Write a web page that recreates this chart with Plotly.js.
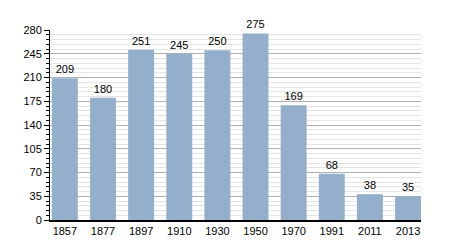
<!DOCTYPE html>
<html><head><meta charset="utf-8">
<script src="https://cdn.plot.ly/plotly-3.0.1.min.js"></script>
<style>html,body{margin:0;padding:0;background:#fff}</style>
</head><body><div id="chart" style="width:450px;height:250px"></div>
<script>
const years = ["1857","1877","1897","1910","1930","1950","1970","1991","2011","2013"];
const population = [209,180,251,245,250,275,169,68,38,35];
const yTicks = [0,35,70,105,140,175,210,245,280];

Plotly.newPlot('chart', [{
  type: 'bar', x: years, y: population,
  text: population.map(String), textposition: 'outside', cliponaxis: false,
  textfont: {family: 'Liberation Sans, Arial, sans-serif', size: 11, color: '#000'},
  marker: {color: '#94afcb'}, width: 0.68, hoverinfo: 'none'
}], {
  width: 450, height: 250,
  margin: {l: 50, r: 29, t: 30, b: 30},
  paper_bgcolor: '#fff', plot_bgcolor: '#fff',
  font: {family: 'Liberation Sans, Arial, sans-serif', size: 11, color: '#000'},
  showlegend: false,
  xaxis: {type: 'category', range: [-0.39, 9.34], showline: true, linecolor: '#000', linewidth: 1.5, ticks: '', showgrid: false, tickfont: {size: 11}},
  yaxis: {range: [0, 280], tickvals: yTicks, ticks: 'outside', ticklen: 5, tickcolor: '#000',
    showline: true, linecolor: '#000', linewidth: 1, gridcolor: '#b0b0b0', gridwidth: 1, zeroline: false,
    minor: {dtick: 7, tick0: 0, showgrid: true, gridcolor: '#e4e4e4', ticks: 'outside', ticklen: 3, tickcolor: '#000'},
    tickfont: {size: 11}}
}, {displayModeBar: false, staticPlot: true});
</script></body></html>
